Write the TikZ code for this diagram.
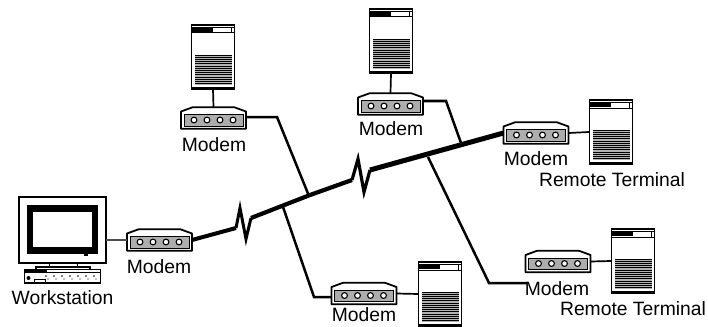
\documentclass[tikz,border=0pt]{standalone}
\usepackage{fontspec}
\setmainfont{Liberation Sans}
\tikzset{
	lbl/.style={anchor=base,inner sep=0pt,font=\fontsize{19.3}{21}\selectfont},
	link/.style={line width=2.5pt,line join=miter},
	stub/.style={line width=1.7pt},
	modem/.pic={
		\node[inner sep=0pt,outer sep=0pt,minimum width=65pt,minimum height=22pt] (-box) {};
		\draw[line width=1.8pt,fill=white,line join=round]
		(-32.5,-6.5)--(-21,-10.7)--(21,-10.7)--(32.5,-6.5)--(32.5,10.7)--(-32.5,10.7)--cycle;
		\draw[line width=1pt,fill=black!32] (-29.5,-3.5) rectangle (29.5,8);
		\foreach \i in {-19.5,-6.5,6.5,19.5}
		\draw[line width=1.1pt,fill=white] (\i,2) circle (2.9);
	},
	terminal/.pic={
		\node[inner sep=0pt,outer sep=0pt,minimum width=44pt,minimum height=65pt] (-box) {};
		\draw[line width=1.6pt,fill=white] (-21.5,-32) rectangle (21.5,31);
		\draw[line width=3.4pt] (-22.3,31.5)--(22.3,31.5);
		\fill (-21,-29.5) rectangle (0,-25);
		\draw[line width=1pt] (-21,-24)--(21,-24) (18,-29.5)--(18,-24) (-21,-29.5)--(21,-29.5);
		\fill[black!30] (-18,-2) rectangle (19,28);
		\foreach \y in {-2,0.2,...,28}
		\draw[line width=.9pt] (-18,\y)--(19,\y);
	},
}
\begin{document}
\begin{tikzpicture}[x=1pt,y=-1pt]
	\useasboundingbox (0,0) rectangle (708,326);
	% terminals and modems
	\pic (termA) at (213,57) {terminal};
	\pic (termB) at (391,41) {terminal};
	\pic (termC) at (611,132) {terminal};
	\pic (termD) at (633,261) {terminal};
	\pic (termE) at (440,294) {terminal};
	\pic (modemW) at (159.5,240) {modem};
	\pic (modemA) at (213.5,118) {modem};
	\pic (modemB) at (390.5,104) {modem};
	\pic (modemC) at (536,133) {modem};
	\pic (modemD) at (558,261.5) {modem};
	\pic (modemE) at (364,293.5) {modem};
	% workstation
	\node[draw,line width=1.5pt,inner sep=0pt,outer sep=0pt,minimum width=87pt,minimum height=66pt] (monitor) at (62.5,230) {};
	\draw[line width=6.5pt] (30,208.5) rectangle (95,250.5);
	\draw[line width=1pt] (49,263.5) rectangle (77,267);
	\draw[line width=1.1pt] (36,269)--(36,267)--(90,267)--(90,269);
	\draw[line width=1.5pt] (24.5,269.5) rectangle (100.5,283);
	\draw[line width=1pt] (24.5,272)--(100.5,272);
	\fill (25,270) rectangle (47,272);
	\fill (28.5,278) circle (2);
	\draw[line width=.8pt] (34,279) rectangle (45,282);
	\foreach \i in {46,54,...,96}
	\fill (\i,276) circle (.9) (\i+2,279) circle (.7);
	\draw[line width=1.6pt] (84,255)--(88,255);
	% connectors
	\coordinate (zigA1) at (236,228);
	\coordinate (zigA2) at (240,208);
	\coordinate (zigA3) at (246,239);
	\coordinate (zigA4) at (251,218);
	\coordinate (zigB1) at (352,180);
	\coordinate (zigB2) at (358,159);
	\coordinate (zigB3) at (364,192);
	\coordinate (zigB4) at (370,170);
	\coordinate (jA) at (309,196);
	\coordinate (jB) at (461,143);
	\coordinate (jD) at (428,157);
	\coordinate (jE) at (282,204);
	\coordinate (jMid) at (310,195);
	\draw[line width=1.1pt,black!70] (monitor.east|-modemW-box.west)--(modemW-box.west);
	\draw[line width=4pt,line join=round] (modemW-box.east)--(zigA1);
	\draw[line width=3pt,line join=miter] (zigA1)--(zigA2)--(zigA3)--(zigA4);
	\draw[line width=4.2pt,line join=round] (zigA4)--(jMid)--(zigB1);
	\draw[line width=3.2pt,line join=miter] (zigB1)--(zigB2)--(zigB3)--(zigB4);
	\draw[line width=5pt,line join=round] (zigB4)--(modemC-box.west);
	\draw[link] (modemA-box.east)++(0,-1)--(277,117)--(jA);
	\draw[link] (modemB-box.east)++(0,-3)--(446,101)--(jB);
	\draw[link] (jE)--(314,297)--(modemE-box.west|-314,297);
	\coordinate (endD) at (527,283);
	\draw[link] (jD)--(489,283)--(endD);
	\draw[stub] (termA-box.south)--(modemA-box.north);
	\draw[stub] (termB-box.south)--(modemB-box.north);
	\draw[stub] (modemC-box.east)--(termC-box.west);
	\draw[stub] (modemD-box.east)--(termD-box.west);
	\draw[stub] (modemE-box.east)--(termE-box.west);
	% labels
	\node[lbl] (lblW) at (159,273.5) {Modem};
	\node[lbl] (lblWS) at (62.5,304.5) {Workstation};
	\node[lbl] (lblA) at (214,151) {Modem};
	\node[lbl] (lblB) at (391,135) {Modem};
	\node[lbl] (lblC) at (536,165) {Modem};
	\node[lbl] (lblC2) at (612,186) {Remote Terminal};
	\node[lbl] (lblD) at (557,295) {Modem};
	\node[lbl] (lblD2) at (633,315) {Remote Terminal};
	\node[lbl] (lblE) at (364,321.5) {Modem};
\end{tikzpicture}
\end{document}
